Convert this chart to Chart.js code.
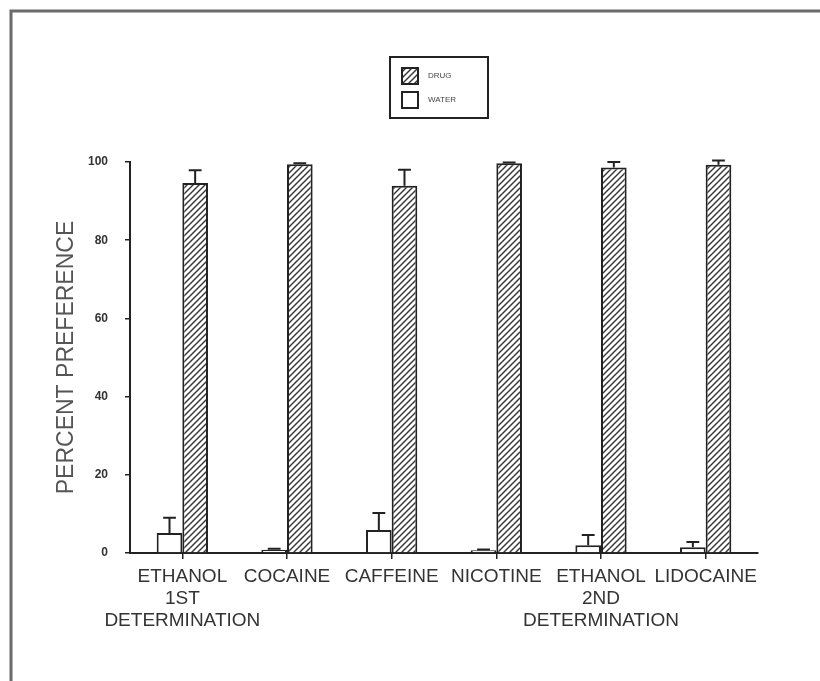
<!DOCTYPE html>
<html>
<head>
<meta charset="utf-8">
<script src="https://cdn.jsdelivr.net/npm/chart.js@4"></script>
<style>
  html, body { margin: 0; padding: 0; background: #fff; }
  canvas { display: block; }
</style>
</head>
<body>
<canvas id="prefChart" width="820" height="681"></canvas>
<script>
const categories = [
    ['ETHANOL', '1ST', 'DETERMINATION'], 'COCAINE', 'CAFFEINE', 'NICOTINE',
    ['ETHANOL', '2ND', 'DETERMINATION'], 'LIDOCAINE'
];
const waterValues = [5.1, 0.8, 5.9, 0.7, 2.0, 1.5];
const waterErrors = [3.9, 0.3, 4.3, 0.2, 2.6, 1.3];
const drugValues = [94.6, 99.4, 93.9, 99.7, 98.6, 99.3];
const drugErrors = [3.3, 0.3, 4.1, 0.2, 1.4, 1.1];
const yTicks = [0, 20, 40, 60, 80, 100];

// diagonal hatch for the drug bars
function makeHatch() {
    const c = document.createElement('canvas');
    c.width = 6; c.height = 6;
    const g = c.getContext('2d');
    g.fillStyle = '#fff';
    g.fillRect(0, 0, 6, 6);
    g.strokeStyle = '#333';
    g.lineWidth = 1.4;
    g.beginPath();
    g.moveTo(0, 6); g.lineTo(6, 0);
    g.moveTo(-1, 1); g.lineTo(1, -1);
    g.moveTo(5, 7); g.lineTo(7, 5);
    g.stroke();
    return g.createPattern(c, 'repeat');
}
const hatch = makeHatch();

const errorBars = {
    id: 'errorBars',
    afterDatasetsDraw(chart) {
        const ctx = chart.ctx;
        const y = chart.scales.y;
        chart.data.datasets.forEach((ds, i) => {
            const meta = chart.getDatasetMeta(i);
            meta.data.forEach((bar, j) => {
                const top = y.getPixelForValue(ds.data[j] + ds.errors[j]);
                const half = bar.width * 0.25;
                ctx.save();
                ctx.strokeStyle = '#222';
                ctx.lineWidth = 2;
                ctx.beginPath();
                ctx.moveTo(bar.x, bar.y);
                ctx.lineTo(bar.x, top);
                ctx.moveTo(bar.x - half, top);
                ctx.lineTo(bar.x + half, top);
                ctx.stroke();
                ctx.restore();
            });
        });
    }
};

// frame round the figure and the boxed legend
const decor = {
    id: 'decor',
    afterDraw(chart) {
        const ctx = chart.ctx;
        ctx.save();
        ctx.strokeStyle = '#6a6a6a';
        ctx.lineWidth = 3;
        ctx.beginPath();
        ctx.moveTo(11, 681); ctx.lineTo(11, 11); ctx.lineTo(820, 11);
        ctx.stroke();

        ctx.strokeStyle = '#222';
        ctx.lineWidth = 2;
        ctx.strokeRect(390, 57, 98, 61);
        const order = [1, 0];
        order.forEach((di, k) => {
            const ds = chart.data.datasets[di];
            const by = 68 + k * 24;
            ctx.fillStyle = ds.backgroundColor;
            ctx.fillRect(402, by, 16, 16);
            ctx.lineWidth = 2;
            ctx.strokeRect(402, by, 16, 16);
            ctx.fillStyle = '#444';
            ctx.font = '8px "Liberation Sans", Arial, sans-serif';
            ctx.textBaseline = 'middle';
            ctx.fillText(ds.label, 428, by + 8);
        });
        ctx.restore();
    }
};

new Chart(document.getElementById('prefChart'), {
    type: 'bar',
    data: {
        labels: categories,
        datasets: [
            {
                label: 'WATER',
                data: waterValues,
                errors: waterErrors,
                backgroundColor: '#fff',
                borderColor: '#222',
                borderWidth: 2
            },
            {
                label: 'DRUG',
                data: drugValues,
                errors: drugErrors,
                backgroundColor: hatch,
                borderColor: '#222',
                borderWidth: 2
            }
        ]
    },
    options: {
        responsive: false,
        animation: false,
        layout: { padding: { top: 162, right: 62, left: 53, bottom: 0 } },
        datasets: {
            bar: { categoryPercentage: 0.49, barPercentage: 1.0 }
        },
        scales: {
            x: {
                grid: {
                    offset: false,
                    drawOnChartArea: false,
                    color: '#222',
                    lineWidth: 1.5,
                    tickLength: 6
                },
                border: { color: '#222', width: 2 },
                ticks: {
                    color: '#333',
                    padding: 7,
                    maxRotation: 0,
                    autoSkip: false,
                    font: { family: '"Liberation Sans", Arial, sans-serif', size: 19, lineHeight: 1.15 }
                },
                afterFit(scale) { scale.height = 681 - 553; }
            },
            y: {
                min: 0,
                max: 100,
                afterBuildTicks(scale) { scale.ticks = yTicks.map(v => ({ value: v })); },
                grid: {
                    drawOnChartArea: false,
                    color: '#222',
                    lineWidth: 1.5,
                    tickLength: 5
                },
                border: { color: '#222', width: 2 },
                ticks: {
                    color: '#333',
                    padding: 17,
                    font: { family: '"Liberation Sans", Arial, sans-serif', size: 12, weight: 'bold' }
                },
                title: {
                    display: true,
                    text: 'PERCENT PREFERENCE',
                    color: '#555',
                    padding: { top: 0, bottom: 0 },
                    font: { family: '"Liberation Sans", Arial, sans-serif', size: 23 }
                },
                afterFit(scale) { scale.width = 130 - 53; }
            }
        },
        plugins: {
            legend: { display: false },
            tooltip: { enabled: false }
        }
    },
    plugins: [errorBars, decor]
});
</script>
</body>
</html>
